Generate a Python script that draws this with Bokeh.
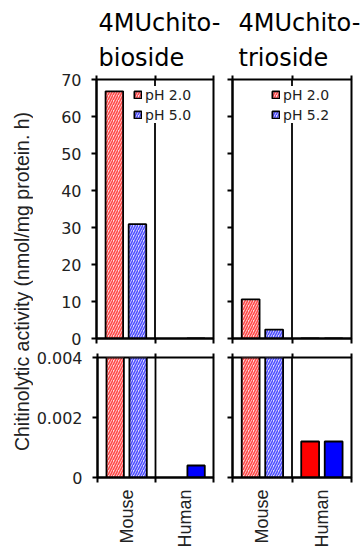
import math
from bokeh.plotting import figure
from bokeh.models import (Range1d, LinearAxis, FixedTicker, Span, Legend,
                          LegendItem, Title, Label, ColumnDataSource)
from bokeh.transform import dodge
from bokeh.layouts import row, column
from bokeh.embed import file_html
from bokeh.resources import INLINE

# ---------------- data ----------------
species = ["Mouse", "Human"]
bioside_ph20 = [66.8, float("nan")]
bioside_ph50 = [30.9, 0.0004]
trioside_ph20 = [10.6, 0.0012]
trioside_ph52 = [2.4, 0.0012]
top_ticks = [0, 10, 20, 30, 40, 50, 60, 70]
bottom_ticks = [0, 0.002, 0.004]
bottom_tick_labels = ["0", "0.002", "0.004"]
panel_titles = ["4MUchito-\nbioside", "4MUchito-\ntrioside"]
legend_labels = [["pH 2.0", "pH 5.0"], ["pH 2.0", "pH 5.2"]]
y_label = "Chitinolytic activity (nmol/mg protein. h)"

# ---------------- styles ----------------
TICK_FONT = "DejaVu Sans"
hatched = {"Mouse": True, "Human": False}
RED_FILL, RED_HATCH, RED_SOLID = "#ffdada", "#ff4a4a", "#ff0000"
BLUE_FILL, BLUE_HATCH, BLUE_SOLID = "#dcdcff", "#5050ff", "#0000ff"
LW = 1.8

centres = [i + 0.5 for i in range(len(species))]
bounds = [float(i) for i in range(len(species) + 1)]


def make_panel(is_left, is_top, vals_a, vals_b, labels=None, title=None):
    if is_top:
        y_range = Range1d(0, 70)
        height, b_top, b_bot = 350, 79, 12
        ticks = top_ticks
    else:
        y_range = Range1d(0, 0.004)
        height, b_top, b_bot = 200, 7, 70
        ticks = bottom_ticks
    if is_left:
        width, b_left, b_right = 190, 63, 10
    else:
        width, b_left, b_right = 140, 9, 12

    p = figure(x_range=Range1d(bounds[0], bounds[-1]), y_range=y_range,
               width=width, height=height, toolbar_location=None, output_backend="svg",
               x_axis_location=None, y_axis_location=None, title=None,
               min_border_left=b_left, min_border_right=b_right,
               min_border_top=b_top, min_border_bottom=b_bot)
    p.xgrid.visible = False
    p.ygrid.visible = False
    p.outline_line_color = "black"
    p.outline_line_width = 2
    p.outline_line_alpha = 1
    p.background_fill_color = "white"
    p.border_fill_color = "white"

    # divider between species
    for b in bounds[1:-1]:
        p.add_layout(Span(location=b, dimension="height", line_color="black",
                          line_width=1.8, level="underlay"))

    renderers = {}
    for i, sp in enumerate(species):
        src = ColumnDataSource(dict(pos=[centres[i]], a=[vals_a[i]], b=[vals_b[i]]))
        for key, off, fill, hcol, solid in (("a", -0.195, RED_FILL, RED_HATCH, RED_SOLID),
                                            ("b", 0.2, BLUE_FILL, BLUE_HATCH, BLUE_SOLID)):
            if hatched[sp]:
                r = p.vbar(x=dodge("pos", off), top=key, width=0.3, source=src,
                           fill_color=fill, hatch_pattern="/", hatch_color=hcol,
                           hatch_scale=5, hatch_weight=1.6,
                           line_color="black", line_width=LW)
                renderers[key] = r
            else:
                p.vbar(x=dodge("pos", off), top=key, width=0.3, source=src,
                       fill_color=solid, line_color="black", line_width=LW)

    # y axis
    if is_left:
        yax = LinearAxis(ticker=FixedTicker(ticks=ticks, minor_ticks=[]),
                         axis_line_width=2, major_tick_line_width=2,
                         major_tick_out=5, major_tick_in=0, minor_tick_line_color=None,
                         major_label_text_font=TICK_FONT, major_label_text_font_size="16px",
                         major_label_text_color="#222222", major_label_standoff=10)
        if not is_top:
            yax.major_label_overrides = {t: l for t, l in zip(bottom_ticks, bottom_tick_labels)}
    else:
        yax = LinearAxis(ticker=FixedTicker(ticks=[], minor_ticks=ticks),
                         axis_line_width=2, major_tick_line_color=None,
                         minor_tick_out=5, minor_tick_in=0, minor_tick_line_width=2,
                         major_label_standoff=0)
    p.add_layout(yax, "left")

    # x axis (ticks at species boundaries, labels at centres)
    if is_top:
        xax = LinearAxis(ticker=FixedTicker(ticks=[], minor_ticks=bounds),
                         axis_line_width=2, major_tick_line_color=None,
                         minor_tick_out=5, minor_tick_in=0, minor_tick_line_width=2,
                         major_label_standoff=0)
    else:
        xax = LinearAxis(ticker=FixedTicker(ticks=centres, minor_ticks=bounds),
                         axis_line_width=2, major_tick_out=0, major_tick_in=0,
                         minor_tick_out=5, minor_tick_in=0, minor_tick_line_width=2,
                         major_label_orientation=math.pi / 2,
                         major_label_overrides={c: s for c, s in zip(centres, species)},
                         major_label_text_font="Liberation Sans",
                         major_label_text_font_size="18px",
                         major_label_text_color="#222222",
                         major_label_standoff=7)
    p.add_layout(xax, "below")

    # mirrored ticks on top
    tax = LinearAxis(ticker=FixedTicker(ticks=[], minor_ticks=bounds),
                     axis_line_color=None, major_tick_line_color=None,
                     minor_tick_out=4, minor_tick_in=0, minor_tick_line_width=2,
                     major_label_standoff=0)
    p.add_layout(tax, "above")

    if title is not None:
        p.add_layout(Title(text=title, align="left", offset=2 if is_left else 6,
                           text_font="DejaVu Sans", text_font_size="24px",
                           text_font_style="normal", text_color="black",
                           text_line_height=1.25, standoff=7), "above")

    if labels is not None:
        legend = Legend(items=[LegendItem(label=labels[0], renderers=[renderers["a"]]),
                               LegendItem(label=labels[1], renderers=[renderers["b"]])],
                        location=(37 if is_left else 39, 215),
                        padding=3, margin=0, spacing=3,
                        glyph_width=9, glyph_height=9, label_height=17,
                        label_standoff=3, label_text_font=TICK_FONT,
                        label_text_font_size="14px", label_text_color="#222222",
                        border_line_color=None, background_fill_color="white",
                        background_fill_alpha=1)
        p.add_layout(legend, "center")
    return p


tl = make_panel(True, True, bioside_ph20, bioside_ph50, legend_labels[0], panel_titles[0])
tr = make_panel(False, True, trioside_ph20, trioside_ph52, legend_labels[1], panel_titles[1])
bl = make_panel(True, False, bioside_ph20, bioside_ph50)
br = make_panel(False, False, trioside_ph20, trioside_ph52)

ylab = figure(width=33, height=550, toolbar_location=None, output_backend="svg",
              x_range=Range1d(0, 33), y_range=Range1d(0, 550), title=None,
              x_axis_location=None, y_axis_location=None, min_border=0)
ylab.outline_line_color = None
ylab.xgrid.visible = False
ylab.ygrid.visible = False
ylab.add_layout(Label(x=21.5, y=269, text=y_label, angle=math.pi / 2,
                      text_align="center", text_baseline="middle",
                      text_font="Liberation Sans", text_font_size="19.5px",
                      text_color="#222222"))

page = row(ylab, column(row(tl, tr), row(bl, br)))

with open("out.html", "w") as f:
    f.write(file_html(page, INLINE))
